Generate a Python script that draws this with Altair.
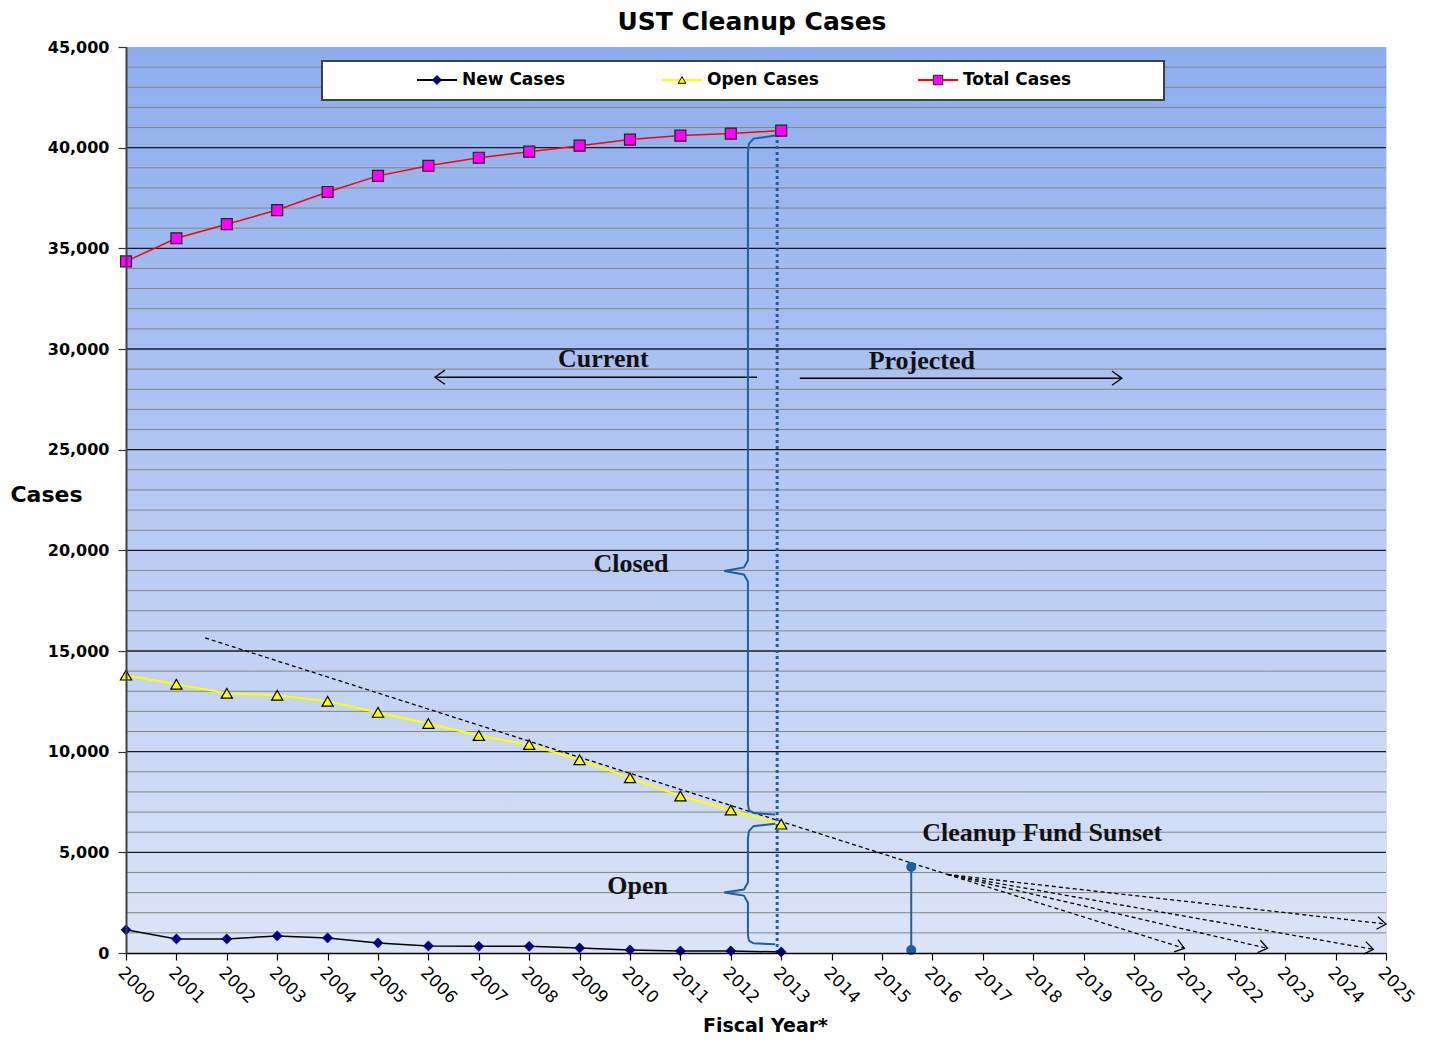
import math
import altair as alt
import pandas as pd

# ---------------- data ----------------
years = list(range(2000, 2014))
new_cases = [1150, 700, 700, 850, 750, 500, 350, 330, 330, 250, 150, 100, 100, 50]
open_cases = [13800, 13350, 12900, 12800, 12500, 11950, 11400, 10800, 10350, 9600, 8700, 7800, 7100, 6400]
total_cases = [34350, 35500, 36200, 36900, 37800, 38600, 39100, 39500, 39800, 40100, 40400, 40600, 40700, 40850]
series_names = ["New Cases", "Open Cases", "Total Cases"]

x_ticks = list(range(2000, 2026))
y_ticks = list(range(0, 45001, 5000))

# trend line (dashed) and projected fan
trend_x = [2001.57, 2016.3]
trend_y = [15650, 3900]
fan_start = (2016.3, 3900)
fan_end_x = [2025.0, 2024.75, 2022.65, 2021.0]
fan_end_y = [1440, 180, 230, 230]

# annotations
current_arrow_x = [2012.52, 2006.13]
current_arrow_y = [28600, 28600]
projected_arrow_x = [2013.37, 2019.76]
projected_arrow_y = [28550, 28550]
divider_year = 2012.92
sunset_year = 2015.58
sunset_y = [150, 4270]

labels = ["Current", "Projected", "Closed", "Open", "Cleanup Fund Sunset"]
label_x = [2009.47, 2015.79, 2010.02, 2010.15, 2018.18]
label_y = [29100, 29000, 18900, 2950, 5560]

# braces: (x, y) path points
closed_brace_x = [2012.88, 2012.45, 2012.36, 2012.34, 2012.34, 2012.26, 2011.87, 2012.26, 2012.34, 2012.34, 2012.36, 2012.45, 2012.88]
closed_brace_y = [40600, 40450, 40200, 39800, 19500, 19150, 18970, 18800, 18450, 7400, 7100, 6950, 6880]
open_brace_x = [2012.88, 2012.45, 2012.36, 2012.34, 2012.34, 2012.26, 2011.87, 2012.26, 2012.34, 2012.34, 2012.36, 2012.45, 2012.88]
open_brace_y = [6420, 6300, 6050, 5700, 3500, 3150, 3000, 2850, 2500, 900, 620, 480, 430]

# ---------------- layout ----------------
W, H = 1260, 906
BLUE = "#1F5FA0"
PX_PER_YEAR = W / 25.0
PX_PER_CASE = H / 45000.0

xs = alt.Scale(domain=[2000, 2025], nice=False, zero=False)
ys = alt.Scale(domain=[0, 45000], nice=False, zero=True)

x_axis = alt.Axis(values=x_ticks, format="d", labelAngle=45, labelAlign="left", labelBaseline="top",
                  labelFont="DejaVu Sans", labelFontSize=17, labelColor="black", labelPadding=4,
                  labelOverlap=False, labelFlush=False, labelBound=False,
                  tickSize=7, tickColor="black", tickWidth=1.2, domainColor="black", domainWidth=1.5,
                  grid=False, zindex=1,
                  title="Fiscal Year*", titleFont="DejaVu Sans", titleFontSize=19, titleFontWeight="bold",
                  titleColor="black", titleX=639, titleY=72, titleAlign="center", titleBaseline="middle")
y_axis = alt.Axis(values=y_ticks, format=",d", labelFont="DejaVu Sans", labelFontWeight="bold",
                  labelFontSize=16, labelColor="black", labelPadding=9, labelFlush=False, labelOverlap=False,
                  tickSize=8, tickColor="#333333", tickWidth=1.2, domainColor="#404040", domainWidth=2,
                  grid=False, zindex=1,
                  title="Cases", titleAngle=0, titleX=-80, titleY=447, titleAlign="center",
                  titleBaseline="middle", titleFont="DejaVu Sans", titleFontSize=22, titleFontWeight="bold",
                  titleColor="black")


def X(f="x"):
    return alt.X(f"{f}:Q", scale=xs, axis=x_axis)


def Y(f="y"):
    return alt.Y(f"{f}:Q", scale=ys, axis=y_axis)


one = pd.DataFrame({"k": [0]})

# background gradient
bg = alt.Chart(one).mark_rect(
    color=alt.Gradient(gradient="linear",
                       stops=[alt.GradientStop(color="#8EADEE", offset=0),
                              alt.GradientStop(color="#DCE4F7", offset=1)],
                       x1=0, x2=0, y1=0, y2=1)
).encode(x=alt.value(0), x2=alt.value(W), y=alt.value(0), y2=alt.value(H))

minor_vals = [v for v in range(1000, 45000, 1000) if v % 5000 != 0]
major_vals = [v for v in range(5000, 45000, 5000)]
minor = alt.Chart(pd.DataFrame({"y": minor_vals})).mark_rule(color="#858585", strokeWidth=1).encode(y=Y())
major = alt.Chart(pd.DataFrame({"y": major_vals})).mark_rule(color="#1A1A1A", strokeWidth=1.3).encode(y=Y())

layers = [bg, minor, major]

# trend dashed line
trend = alt.Chart(pd.DataFrame({"x": trend_x, "y": trend_y})).mark_line(
    color="black", strokeDash=[4, 3], strokeWidth=1.3).encode(x=X(), y=Y())
layers.append(trend)

fan_rows = []
head_rows = []
for i, (ex, ey) in enumerate(zip(fan_end_x, fan_end_y)):
    fan_rows.append({"g": i, "o": 0, "x": fan_start[0], "y": fan_start[1]})
    fan_rows.append({"g": i, "o": 1, "x": ex, "y": ey})
    dx = (ex - fan_start[0]) * PX_PER_YEAR
    dy = (fan_start[1] - ey) * PX_PER_CASE
    head_rows.append({"x": ex, "y": ey, "a": math.degrees(math.atan2(dy, dx)), "s": 160})
fan = alt.Chart(pd.DataFrame(fan_rows)).mark_line(
    color="black", strokeDash=[4, 3], strokeWidth=1.3).encode(x=X(), y=Y(), detail="g:N", order="o:Q")
layers.append(fan)

# current / projected arrows
arr_rows = [{"g": 0, "o": 0, "x": current_arrow_x[0], "y": current_arrow_y[0]},
            {"g": 0, "o": 1, "x": current_arrow_x[1], "y": current_arrow_y[1]},
            {"g": 1, "o": 0, "x": projected_arrow_x[0], "y": projected_arrow_y[0]},
            {"g": 1, "o": 1, "x": projected_arrow_x[1], "y": projected_arrow_y[1]}]
arrows = alt.Chart(pd.DataFrame(arr_rows)).mark_line(color="black", strokeWidth=1.5).encode(
    x=X(), y=Y(), detail="g:N", order="o:Q")
layers.append(arrows)
head_rows.append({"x": current_arrow_x[1], "y": current_arrow_y[1], "a": 180, "s": 200})
head_rows.append({"x": projected_arrow_x[1], "y": projected_arrow_y[1], "a": 0, "s": 200})
heads = alt.Chart(pd.DataFrame(head_rows)).mark_point(
    shape="M-1.4,-1L0,0L-1.4,1", filled=False, stroke="black", strokeWidth=1.3, opacity=1
).encode(x=X(), y=Y(), angle=alt.Angle("a:Q", scale=None), size=alt.Size("s:Q", scale=None))
layers.append(heads)

# series
df = pd.DataFrame({"x": years, "new": new_cases, "open": open_cases, "total": total_cases})
layers.append(alt.Chart(df).mark_line(color="black", strokeWidth=1.5).encode(x=X(), y=Y("new")))
layers.append(alt.Chart(df).mark_line(color="#FFFF00", strokeWidth=2).encode(x=X(), y=Y("open")))
layers.append(alt.Chart(df).mark_line(color="#FF0000", strokeWidth=1.5).encode(x=X(), y=Y("total")))

# braces and dividers
brace_rows = []
for i, (bx, by) in enumerate([(closed_brace_x, closed_brace_y), (open_brace_x, open_brace_y)]):
    for j, (a, b) in enumerate(zip(bx, by)):
        brace_rows.append({"g": i, "o": j, "x": a, "y": b})
braces = alt.Chart(pd.DataFrame(brace_rows)).mark_line(color=BLUE, strokeWidth=2).encode(
    x=X(), y=Y(), detail="g:N", order="o:Q")
layers.append(braces)

divider = alt.Chart(pd.DataFrame({"x": [divider_year], "y": [0], "y2": [total_cases[-1]]})).mark_rule(
    color=BLUE, strokeWidth=3, strokeDash=[3, 3]).encode(x=X(), y=Y(), y2="y2:Q")
layers.append(divider)

sunset = alt.Chart(pd.DataFrame({"x": [sunset_year], "y": [sunset_y[0]], "y2": [sunset_y[1]]})).mark_rule(
    color=BLUE, strokeWidth=2).encode(x=X(), y=Y(), y2="y2:Q")
sunset_pts = alt.Chart(pd.DataFrame({"x": [sunset_year] * 2, "y": sunset_y})).mark_circle(
    color=BLUE, size=100, opacity=1).encode(x=X(), y=Y())
layers += [sunset, sunset_pts]

# markers
layers.append(alt.Chart(df).mark_point(shape="diamond", filled=True, fill="#000080", stroke="#000080",
                                       strokeWidth=0.5, size=105, opacity=1).encode(x=X(), y=Y("new")))
layers.append(alt.Chart(df).mark_point(shape="triangle-up", filled=True, fill="#FFFF00", stroke="black",
                                       strokeWidth=1.2, size=125, opacity=1).encode(x=X(), y=Y("open")))
layers.append(alt.Chart(df).mark_point(shape="square", filled=True, fill="#FF00FF", stroke="#222222",
                                       strokeWidth=1.2, size=120, opacity=1).encode(x=X(), y=Y("total")))

# annotation texts
ann = alt.Chart(pd.DataFrame({"x": label_x, "y": label_y, "t": labels})).mark_text(
    font="Liberation Serif", fontWeight="bold", fontSize=26, baseline="alphabetic", align="center",
    color="#111111").encode(x=X(), y=Y(), text="t:N")
layers.append(ann)

# legend (manual)
layers.append(alt.Chart(one).mark_rect(fill="white", stroke="#404040", strokeWidth=2).encode(
    x=alt.value(196), x2=alt.value(1038), y=alt.value(14), y2=alt.value(53)))
legend_styles = [
    dict(line="black", shape="diamond", fill="#000080", stroke="#000080", size=80),
    dict(line="#FFFF00", shape="triangle-up", fill="#FFFF00", stroke="black", size=60),
    dict(line="#FF0000", shape="square", fill="#FF00FF", stroke="#222222", size=90),
]
legend_x0 = [291, 536, 792]
for name, st, lx in zip(series_names, legend_styles, legend_x0):
    layers.append(alt.Chart(one).mark_rule(color=st["line"], strokeWidth=2).encode(
        x=alt.value(lx), x2=alt.value(lx + 40), y=alt.value(33)))
    layers.append(alt.Chart(one).mark_point(shape=st["shape"], filled=True, fill=st["fill"],
                                            stroke=st["stroke"], strokeWidth=1, size=st["size"],
                                            opacity=1).encode(x=alt.value(lx + 20), y=alt.value(33)))
    layers.append(alt.Chart(one).mark_text(text=name, font="DejaVu Sans", fontWeight="bold", fontSize=17,
                                           align="left", baseline="middle", color="black").encode(
        x=alt.value(lx + 45), y=alt.value(33)))

chart = alt.layer(*layers).properties(
    width=W, height=H,
    title=alt.TitleParams("UST Cleanup Cases", font="DejaVu Sans", fontSize=25, fontWeight="bold",
                          color="black", anchor="middle", offset=4, dx=-4),
    autosize="none",
    padding={"left": 118, "top": 39, "right": 40, "bottom": 83},
).configure_view(stroke="#808080", strokeWidth=2).configure(background="white")

chart.save("out.html", embed_options={"renderer": "svg", "actions": False})
